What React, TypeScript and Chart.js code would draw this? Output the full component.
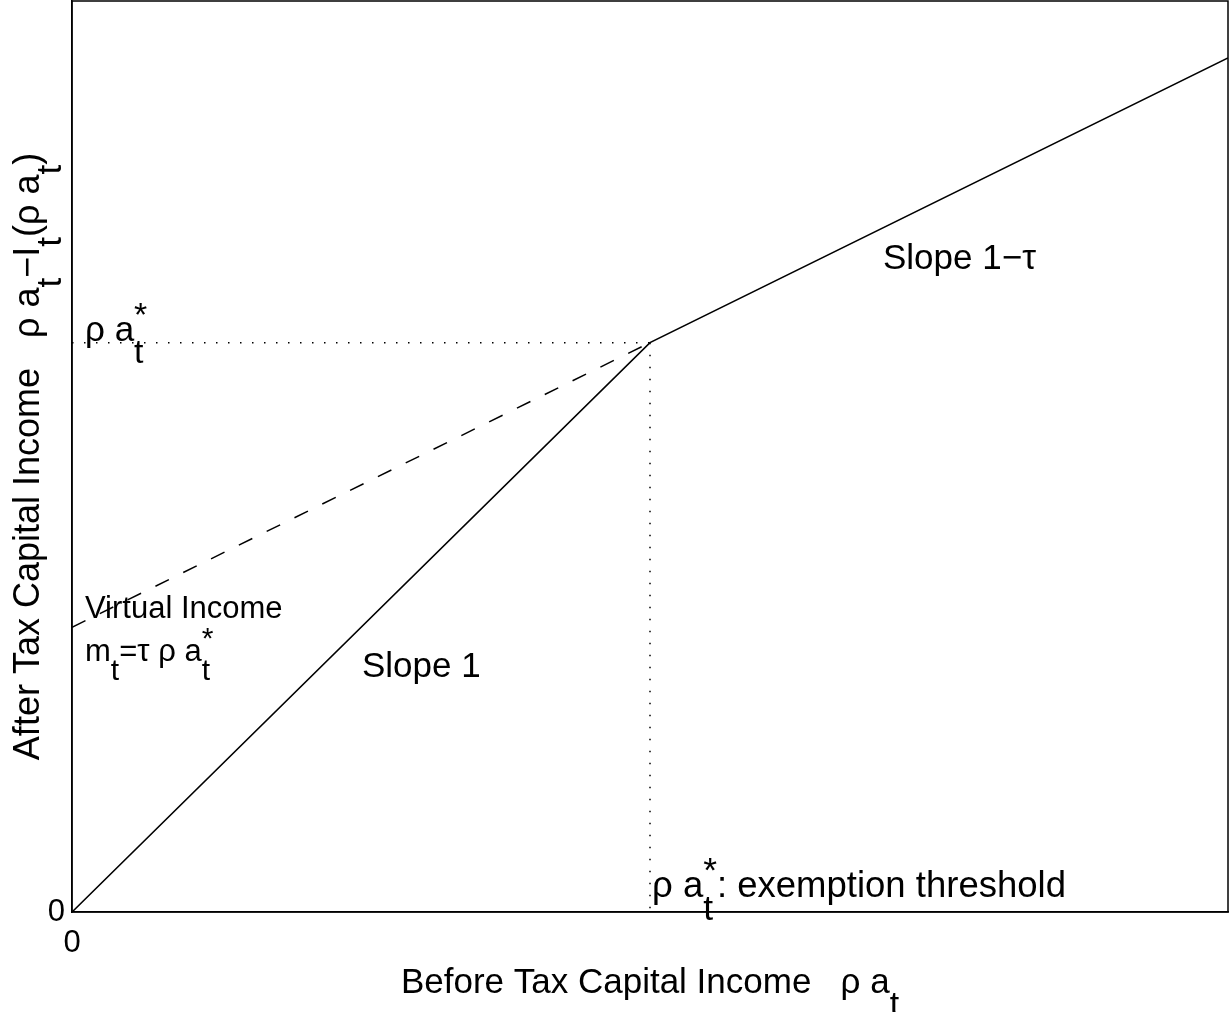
import React, { useEffect, useRef } from "react";
import { Chart, registerables } from "chart.js";

Chart.register(...registerables);

// ---- data (x = before-tax income, y = after-tax income) ----
const beforeTaxX = [0, 0.5, 1];
const afterTaxY = [0, 0.5, 0.75];
const virtualX = [0, 0.5];
const virtualY = [0.25, 0.5];
const thresholdHX = [0, 0.5];
const thresholdHY = [0.5, 0.5];
const thresholdVX = [0.5, 0.5];
const thresholdVY = [0.5, 0];
const xTicks = [0];
const yTicks = [0];
const xRange = [0, 1];
const yRange = [0, 0.8];

const FONT = '"Liberation Sans", Arial, Helvetica, sans-serif';
const SUB = 0.62;
const SUP = 0.42;
const SCRIPT_SCALE = 0.97;

type Tok = { text: string; kind: "n" | "sub" | "sup" };

function parseTex(s: string): Tok[] {
  const out: Tok[] = [];
  let buf = "";
  let i = 0;
  while (i < s.length) {
    const c = s[i];
    if (c === "_" || c === "^") {
      if (buf) {
        out.push({ text: buf, kind: "n" });
        buf = "";
      }
      let arg = "";
      if (s[i + 1] === "{") {
        const j = s.indexOf("}", i + 2);
        arg = s.slice(i + 2, j);
        i = j + 1;
      } else {
        arg = s[i + 1];
        i += 2;
      }
      out.push({ text: arg, kind: c === "_" ? "sub" : "sup" });
    } else {
      buf += c;
      i++;
    }
  }
  if (buf) out.push({ text: buf, kind: "n" });
  return out;
}

function layoutRich(ctx: CanvasRenderingContext2D, s: string, size: number) {
  const toks = parseTex(s);
  const placed: { text: string; dx: number; dy: number; size: number }[] = [];
  let x = 0;
  const ss = size * SCRIPT_SCALE;
  for (let i = 0; i < toks.length; i++) {
    const t = toks[i];
    if (t.kind === "n") {
      ctx.font = `${size}px ${FONT}`;
      placed.push({ text: t.text, dx: x, dy: 0, size });
      x += ctx.measureText(t.text).width;
    } else {
      ctx.font = `${ss}px ${FONT}`;
      let w = ctx.measureText(t.text).width;
      placed.push({ text: t.text, dx: x, dy: t.kind === "sub" ? size * SUB : -size * SUP, size: ss });
      const nx = toks[i + 1];
      if (nx && nx.kind !== "n" && nx.kind !== t.kind) {
        const w2 = ctx.measureText(nx.text).width;
        placed.push({ text: nx.text, dx: x, dy: nx.kind === "sub" ? size * SUB : -size * SUP, size: ss });
        w = Math.max(w, w2);
        i++;
      }
      x += w;
    }
  }
  return { placed, width: x };
}

function drawRich(
  ctx: CanvasRenderingContext2D,
  s: string,
  x: number,
  y: number,
  size: number,
  align: "left" | "center" = "left"
) {
  const { placed, width } = layoutRich(ctx, s, size);
  const x0 = align === "center" ? x - width / 2 : x;
  ctx.save();
  ctx.fillStyle = "#000";
  ctx.textAlign = "left";
  ctx.textBaseline = "alphabetic";
  for (const p of placed) {
    ctx.font = `${p.size}px ${FONT}`;
    ctx.fillText(p.text, x0 + p.dx, y + p.dy);
  }
  ctx.restore();
}

const annotationPlugin = {
  id: "annotations",
  afterDraw(chart: any) {
    const { ctx, chartArea } = chart;
    const { left, top, right, bottom } = chartArea;
    // axes box
    ctx.save();
    ctx.strokeStyle = "#000";
    ctx.lineWidth = 1.5;
    ctx.strokeRect(left, top, right - left, bottom - top);
    ctx.restore();

    // in-plot labels
    drawRich(ctx, "ρ a_t^*", left + 13, 341, 35);
    drawRich(ctx, "Virtual Income", left + 13, 618, 31);
    drawRich(ctx, "m_t=τ ρ a_t^*", left + 13, 661, 31);
    drawRich(ctx, "Slope 1", 362, 677, 35);
    drawRich(ctx, "Slope 1−τ", 883, 269, 35);
    drawRich(ctx, "ρ a_t^*: exemption threshold", 652, 897, 36.5);

    // axis titles
    drawRich(ctx, "Before Tax Capital Income   ρ a_t", (left + right) / 2, 993, 35, "center");
    ctx.save();
    ctx.translate(39, (top + bottom) / 2);
    ctx.rotate(-Math.PI / 2);
    drawRich(ctx, "After Tax Capital Income   ρ a_t−I_t(ρ a_t)", 0, 0, 36, "center");
    ctx.restore();
  },
};

export default function App() {
  const ref = useRef<HTMLCanvasElement | null>(null);
  useEffect(() => {
    if (!ref.current) return;
    const pts = (xs: number[], ys: number[]) => xs.map((x, i) => ({ x, y: ys[i] }));
    const chart = new Chart(ref.current, {
      type: "scatter",
      data: {
        datasets: [
          {
            data: pts(beforeTaxX, afterTaxY),
            showLine: true,
            borderColor: "#000",
            borderWidth: 1.6,
            pointRadius: 0,
          },
          {
            data: pts(virtualX, virtualY),
            showLine: true,
            borderColor: "#000",
            borderWidth: 1.5,
            borderDash: [15, 16],
            pointRadius: 0,
          },
          {
            data: pts(thresholdHX, thresholdHY),
            showLine: true,
            borderColor: "#000",
            borderWidth: 1.5,
            borderDash: [1.5, 10.5],
            pointRadius: 0,
          },
          {
            data: pts(thresholdVX, thresholdVY),
            showLine: true,
            borderColor: "#000",
            borderWidth: 1.5,
            borderDash: [1.5, 10.5],
            pointRadius: 0,
          },
        ],
      },
      options: {
        responsive: false,
        maintainAspectRatio: false,
        animation: false,
        layout: { padding: { left: 0, top: 1, right: 3, bottom: 0 } },
        plugins: { legend: { display: false }, tooltip: { enabled: false } },
        scales: {
          x: {
            type: "linear",
            min: xRange[0],
            max: xRange[1],
            grid: { display: false, drawTicks: false },
            border: { display: true, color: "#000", width: 1.5 },
            ticks: { color: "#000", font: { size: 31, family: FONT }, padding: 13 },
            afterBuildTicks: (s: any) => {
              s.ticks = xTicks.map((v) => ({ value: v }));
            },
            afterFit: (s: any) => {
              s.height = 100;
              s.paddingLeft = 0;
              s.paddingRight = 0;
            },
          },
          y: {
            type: "linear",
            min: yRange[0],
            max: yRange[1],
            grid: { display: false, drawTicks: false },
            border: { display: true, color: "#000", width: 1.5 },
            ticks: { color: "#000", font: { size: 31, family: FONT }, padding: 7 },
            afterBuildTicks: (s: any) => {
              s.ticks = yTicks.map((v) => ({ value: v }));
            },
            afterFit: (s: any) => {
              s.width = 72;
              s.paddingTop = 0;
              s.paddingBottom = 0;
            },
          },
        },
      },
      plugins: [annotationPlugin],
    });
    return () => chart.destroy();
  }, []);
  return (
    <div style={{ position: "absolute", left: 0, top: 0, width: 1231, height: 1012, background: "#fff" }}>
      <canvas ref={ref} width={1231} height={1012} style={{ display: "block" }} />
    </div>
  );
}
